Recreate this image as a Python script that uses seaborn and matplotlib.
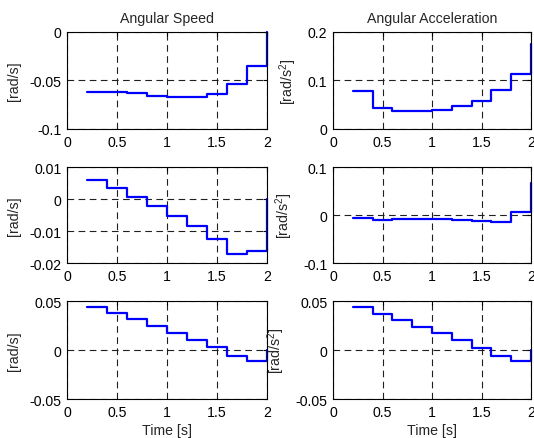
import matplotlib
matplotlib.use("Agg")
import matplotlib.pyplot as plt
import seaborn as sns
import pandas as pd
import numpy as np

# step times (start of each 0.2 s interval, last point closes the step at 2 s)
time = [0.2, 0.4, 0.6, 0.8, 1.0, 1.2, 1.4, 1.6, 1.8, 2.0]

speed_1 = [-0.0614, -0.0614, -0.0631, -0.0659, -0.0669, -0.0669, -0.0641, -0.0538, -0.0348, 0.0]
accel_1 = [0.078, 0.0432, 0.0376, 0.0376, 0.0397, 0.0467, 0.0578, 0.0808, 0.1143, 0.1756]
speed_2 = [0.0058, 0.0034, 0.0007, -0.0021, -0.0052, -0.0085, -0.0126, -0.0171, -0.0162, 0.0]
accel_2 = [-0.0062, -0.011, -0.009, -0.009, -0.009, -0.0104, -0.0131, -0.0152, 0.0069, 0.0657]
speed_3 = [0.0437, 0.0373, 0.0312, 0.0241, 0.0176, 0.0102, 0.0027, -0.0061, -0.0108, 0.0]
accel_3 = [0.0437, 0.0372, 0.031, 0.0239, 0.0174, 0.0099, 0.0024, -0.0065, -0.0113, 0.0]

x_ticks = [0, 0.5, 1, 1.5, 2]
y_ticks = [
    ([-0.1, -0.05, 0], ["-0.1", "-0.05", "0"]),
    ([0, 0.1, 0.2], ["0", "0.1", "0.2"]),
    ([-0.02, -0.01, 0, 0.01], ["-0.02", "-0.01", "0", "0.01"]),
    ([-0.1, 0, 0.1], ["-0.1", "0", "0.1"]),
    ([-0.05, 0, 0.05], ["-0.05", "0", "0.05"]),
    ([-0.05, 0, 0.05], ["-0.05", "0", "0.05"]),
]
series = [speed_1, accel_1, speed_2, accel_2, speed_3, accel_3]
titles = ["Angular Speed", "Angular Acceleration"]
ylabels = ["[rad/s]", "[rad/s$^2$]"]

sns.set_style("white")
plt.rcParams['font.family'] = ['Liberation Sans', 'DejaVu Sans']
plt.rcParams['mathtext.default'] = 'regular'

fs = 10.2
fig = plt.figure(figsize=(5.34, 4.39), dpi=100)

col_left = [0.1255, 0.6236]
col_width = [0.3745, 0.3708]
row_bottom = [0.7039, 0.3986, 0.0888]
row_height = [0.221, 0.2187, 0.2232]

for i, values in enumerate(series):
    row, col = divmod(i, 2)
    ax = fig.add_axes([col_left[col], row_bottom[row], col_width[col], row_height[row]])
    df = pd.DataFrame({"time": time, "value": values})
    sns.lineplot(data=df, x="time", y="value", ax=ax, estimator=None, sort=False,
                 drawstyle="steps-post", color="#0000ff", linewidth=1.6, clip_on=False)
    ticks, labels = y_ticks[i]
    ax.set_xlim(0, 2)
    ax.set_ylim(ticks[0], ticks[-1])
    ax.set_xticks(x_ticks)
    ax.set_xticklabels(["0", "0.5", "1", "1.5", "2"])
    ax.set_yticks(ticks)
    ax.set_yticklabels(labels)
    ax.grid(True, color="#202020", linestyle=(0, (6, 4)), linewidth=0.8)
    ax.tick_params(direction="in", length=3, top=True, right=True, labelsize=fs, pad=4,
                   color="black", labelcolor="black")
    for spine in ax.spines.values():
        spine.set_color("black")
        spine.set_linewidth(0.8)
    ax.set_ylabel(ylabels[col], fontsize=fs, labelpad=6)
    if row == 2:
        ax.set_xlabel("Time [s]", fontsize=fs, labelpad=3)
    else:
        ax.set_xlabel("")
    if row == 0:
        ax.set_title(titles[col], fontsize=fs, pad=7)

fig.savefig("out.png", dpi=100)
